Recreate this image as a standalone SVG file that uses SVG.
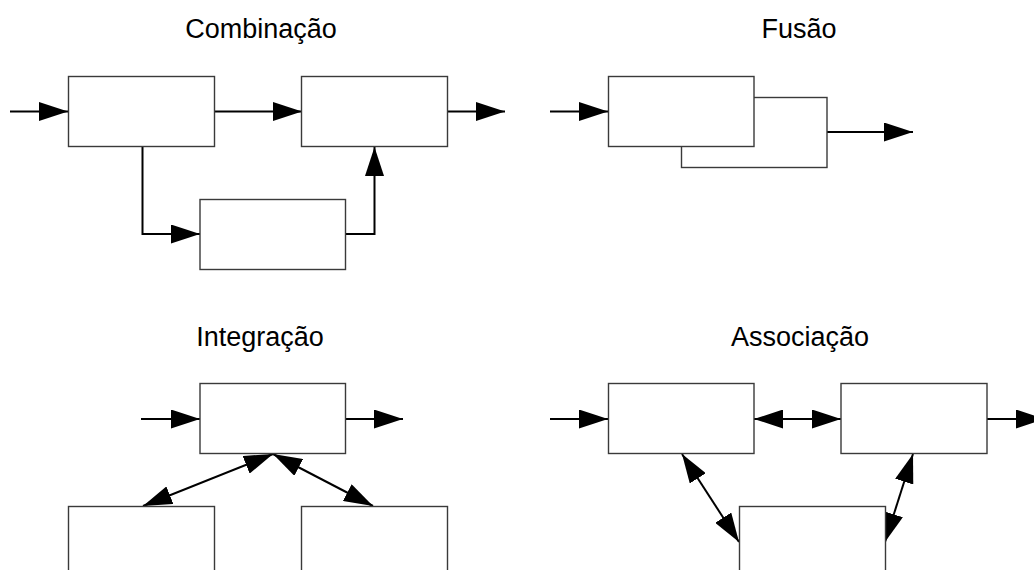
<svg xmlns="http://www.w3.org/2000/svg" width="1034" height="570" viewBox="0 0 1034 570">
<style>
.box{fill:#fff;stroke:#3a3a3a;stroke-width:1.4}
.c{fill:none;stroke:#000;stroke-width:2}
.a{marker-end:url(#ah)}
.d{marker-start:url(#ah);marker-end:url(#ah)}
.t{font-family:"Liberation Sans",Arial,sans-serif;font-size:27px;fill:#000;text-anchor:middle}
</style>
<defs>
<marker id="ah" markerUnits="userSpaceOnUse" markerWidth="29" markerHeight="19" refX="29" refY="9.5" orient="auto-start-reverse" viewBox="0 0 29 19">
<path d="M0,0 L29,9.5 L0,19 z" fill="#000"/>
</marker>
</defs>
<rect width="1034" height="570" fill="#fff"/>
<g id="titles">
<text class="t" x="261" y="38">Combinação</text>
<text class="t" x="799" y="38">Fusão</text>
<text class="t" x="260" y="346">Integração</text>
<text class="t" x="800" y="346">Associação</text>
</g>
<g id="connectors">
<path class="c a" d="M10,111.5 H68"/>
<path class="c a" d="M215,111.5 H302"/>
<path class="c a" d="M447,111.5 H505"/>
<path class="c a" d="M142.5,147 V234 H200"/>
<path class="c a" d="M345,234 H374.5 V147"/>
<path class="c a" d="M550,111.5 H608"/>
<path class="c a" d="M827,132 H913"/>
<path class="c a" d="M141,419 H200"/>
<path class="c a" d="M345,419 H403"/>
<path class="c d" d="M273,454 L143,506"/>
<path class="c d" d="M273,454 L373,506"/>
<path class="c a" d="M550,419 H608"/>
<path class="c d" d="M754,419 H841"/>
<path class="c a" d="M987,419 H1045"/>
<path class="c d" d="M682,454 L739,542"/>
<path class="c d" d="M913,454 L885,542"/>
</g>
<g id="comb-a"><rect class="box" x="68.5" y="76.5" width="146" height="70"/></g>
<g id="comb-b"><rect class="box" x="301.5" y="76.5" width="146" height="70"/></g>
<g id="comb-c"><rect class="box" x="200" y="199.5" width="145.5" height="70"/></g>
<g id="fus-back"><rect class="box" x="681.5" y="97.5" width="145.5" height="70"/></g>
<g id="fus-front"><rect class="box" x="608.5" y="76.5" width="145.5" height="70"/></g>
<g id="int-top"><rect class="box" x="200" y="383.5" width="145.5" height="70"/></g>
<g id="int-left"><rect class="box" x="68.5" y="506.5" width="146" height="80"/></g>
<g id="int-right"><rect class="box" x="301.5" y="506.5" width="146" height="80"/></g>
<g id="asc-a"><rect class="box" x="608.5" y="383.5" width="145.5" height="70"/></g>
<g id="asc-b"><rect class="box" x="841" y="383.5" width="146" height="70"/></g>
<g id="asc-c"><rect class="box" x="739.5" y="506.5" width="146" height="80"/></g>
</svg>
